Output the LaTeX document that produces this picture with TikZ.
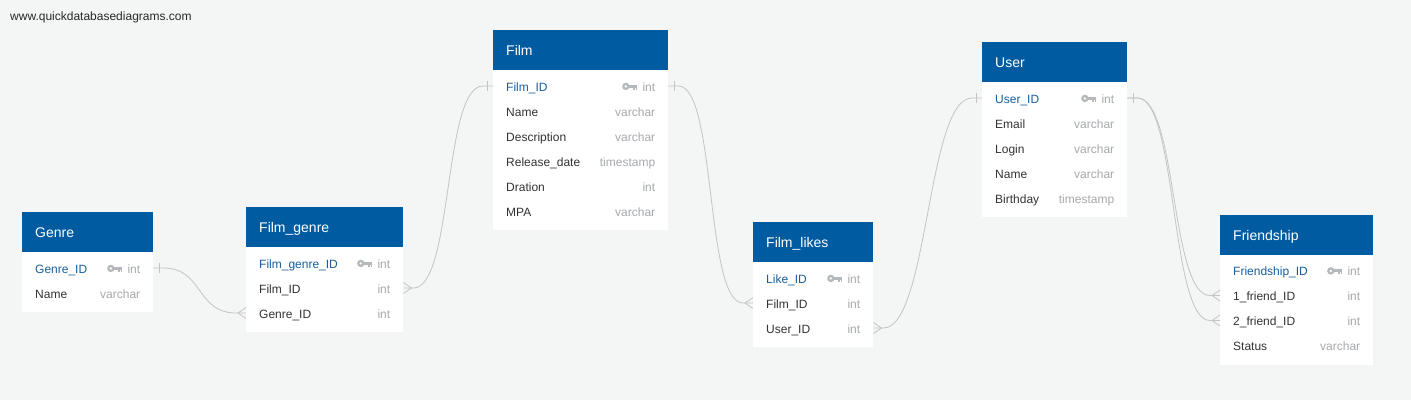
\documentclass[tikz,border=0pt]{standalone}
\usepackage{fontspec}
\setmainfont{Liberation Sans}
\usetikzlibrary{calc}
\definecolor{bgc}{RGB}{244,245,245}
\definecolor{hdrc}{RGB}{0,91,160}
\definecolor{pkc}{RGB}{24,94,158}
\definecolor{namec}{RGB}{51,51,51}
\definecolor{typec}{RGB}{166,169,173}
\definecolor{keyc}{RGB}{181,185,190}
\definecolor{linec}{RGB}{196,196,196}
\definecolor{wmc}{RGB}{40,40,40}
\tikzset{
  conn/.style={draw=linec, line width=0.8pt},
  hdrtxt/.style={text=white, font=\fontsize{14pt}{16pt}\selectfont, inner sep=0pt, anchor=base west},
  rowname/.style={text=namec, font=\fontsize{12pt}{14pt}\selectfont, inner sep=0pt, anchor=base west},
  pkname/.style={rowname, text=pkc},
  rowtype/.style={text=typec, font=\fontsize{12pt}{14pt}\selectfont, inner sep=0pt, anchor=base east},
  tblbox/.style={fill=white, draw=none, inner sep=0pt, anchor=north west},
  wmark/.style={text=wmc, font=\fontsize{12pt}{14pt}\selectfont, inner sep=0pt, anchor=base west}
}
% table: id, x, y, width, title, nrows
\newcommand\ertab[6]{%
  \node[tblbox, minimum width=#4pt, minimum height={50pt+25pt*#6}] (#1) at (#2,#3) {};
  \fill[hdrc] (#1.north west) rectangle ($(#1.north east)+(0,40)$);
  \node[hdrtxt] (#1-title) at ($(#1.north west)+(13,25.5)$) {#5};
}
% row: table, k, name, type, name style
\newcommand\errow[5]{%
  \coordinate (#1-L#2) at ($(#1.north west)+(0,{56+25*(#2-1)})$);
  \coordinate (#1-R#2) at ($(#1.north east)+(0,{56+25*(#2-1)})$);
  \node[#5] (#1-n#2) at ($(#1-L#2)+(13,5.2)$) {#3};
  \node[rowtype] (#1-t#2) at ($(#1-R#2)+(-13,5.2)$) {#4};
}
% key icon before type of row k
\newcommand\erkey[2]{%
  \begin{scope}[shift={($(#1-t#2.base west)+(-5,-4.8)$)}]
    \fill[keyc] (-11.5,0) circle (3.7pt);
    \fill[white] (-11.5,0) circle (1.3pt);
    \fill[keyc] (-8.5,-1.5) rectangle (0,1.5);
    \fill[keyc] (-4.2,1.5) rectangle (-2.6,3.4);
    \fill[keyc] (-1.8,1.5) rectangle (0,3.4);
  \end{scope}
}
% link: one-end coord, its direction, many-end coord, its direction, control length
\newcommand\erlink[5]{%
  \draw[conn] (#1) -- ($(#1)+({#2*10},0)$) .. controls ($(#1)+({#2*(10+#5)},0)$) and ($(#3)+({#4*(10+#5)},0)$) .. ($(#3)+({#4*10},0)$) -- (#3);
  \draw[conn] ($(#1)+({#2*6},-5)$) -- ($(#1)+({#2*6},5)$);
  \draw[conn] ($(#3)+({#4*8},0)$) -- ($(#3)+(0,-5.5)$);
  \draw[conn] ($(#3)+({#4*8},0)$) -- ($(#3)+(0,5.5)$);
}
\begin{document}
\begin{tikzpicture}[x=1pt,y=-1pt]
\fill[bgc] (0,0) rectangle (1411,400);
\useasboundingbox (0,0) rectangle (1411,400);
\node[wmark] (wm) at (10,20.5) {www.quickdatabasediagrams.com};

% Genre
\ertab{genre}{22}{212}{131}{Genre}{2}
\errow{genre}{1}{Genre\_ID}{int}{pkname}
\errow{genre}{2}{Name}{varchar}{rowname}
\erkey{genre}{1}

% Film_genre
\ertab{fg}{246}{207}{157}{Film\_genre}{3}
\errow{fg}{1}{Film\_genre\_ID}{int}{pkname}
\errow{fg}{2}{Film\_ID}{int}{rowname}
\errow{fg}{3}{Genre\_ID}{int}{rowname}
\erkey{fg}{1}

% Film
\ertab{film}{493}{30}{175}{Film}{6}
\errow{film}{1}{Film\_ID}{int}{pkname}
\errow{film}{2}{Name}{varchar}{rowname}
\errow{film}{3}{Description}{varchar}{rowname}
\errow{film}{4}{Release\_date}{timestamp}{rowname}
\errow{film}{5}{Dration}{int}{rowname}
\errow{film}{6}{MPA}{varchar}{rowname}
\erkey{film}{1}

% Film_likes
\ertab{fl}{753}{222}{120}{Film\_likes}{3}
\errow{fl}{1}{Like\_ID}{int}{pkname}
\errow{fl}{2}{Film\_ID}{int}{rowname}
\errow{fl}{3}{User\_ID}{int}{rowname}
\erkey{fl}{1}

% User
\ertab{user}{982}{42}{145}{User}{5}
\errow{user}{1}{User\_ID}{int}{pkname}
\errow{user}{2}{Email}{varchar}{rowname}
\errow{user}{3}{Login}{varchar}{rowname}
\errow{user}{4}{Name}{varchar}{rowname}
\errow{user}{5}{Birthday}{timestamp}{rowname}
\erkey{user}{1}

% Friendship
\ertab{fr}{1220}{214.5}{153}{Friendship}{4}
\errow{fr}{1}{Friendship\_ID}{int}{pkname}
\errow{fr}{2}{1\_friend\_ID}{int}{rowname}
\errow{fr}{3}{2\_friend\_ID}{int}{rowname}
\errow{fr}{4}{Status}{varchar}{rowname}
\erkey{fr}{1}

% connectors
\erlink{genre-R1}{1}{fg-L3}{-1}{40}
\erlink{film-L1}{-1}{fg-R2}{1}{40}
\erlink{film-R1}{1}{fl-L2}{-1}{38}
\erlink{user-L1}{-1}{fl-R3}{1}{45}
\erlink{user-R1}{1}{fr-L2}{-1}{40}
\erlink{user-R1}{1}{fr-L3}{-1}{40}
\end{tikzpicture}
\end{document}
